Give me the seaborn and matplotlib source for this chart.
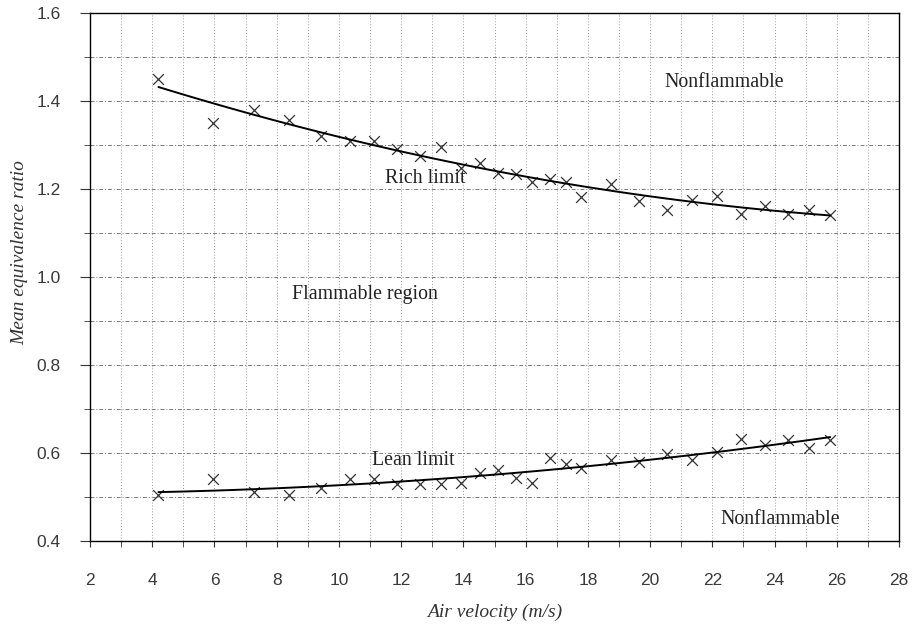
import matplotlib
matplotlib.use("Agg")
import matplotlib.pyplot as plt
import seaborn as sns
import pandas as pd
from matplotlib.ticker import MultipleLocator, FormatStrFormatter

# Data
air_velocity = [4.2, 5.95, 7.27, 8.39, 9.44, 10.35, 11.13, 11.88, 12.59, 13.28,
                13.92, 14.55, 15.1, 15.7, 16.22, 16.77, 17.29, 17.78, 18.75, 19.66,
                20.53, 21.36, 22.15, 22.93, 23.7, 24.43, 25.12, 25.79]
rich_limit = [1.45, 1.351, 1.379, 1.357, 1.32, 1.31, 1.308, 1.292, 1.274, 1.296,
              1.248, 1.259, 1.237, 1.234, 1.217, 1.223, 1.217, 1.181, 1.212, 1.172,
              1.153, 1.174, 1.183, 1.144, 1.162, 1.144, 1.153, 1.14]
lean_limit = [0.505, 0.541, 0.512, 0.505, 0.52, 0.542, 0.54, 0.529, 0.529, 0.529,
              0.532, 0.555, 0.562, 0.544, 0.531, 0.589, 0.576, 0.565, 0.583, 0.58,
              0.598, 0.585, 0.602, 0.631, 0.619, 0.63, 0.611, 0.629]
x_ticks = [2, 4, 6, 8, 10, 12, 14, 16, 18, 20, 22, 24, 26, 28]
y_ticks = [0.4, 0.6, 0.8, 1.0, 1.2, 1.4, 1.6]

df = pd.DataFrame({"v": air_velocity, "rich": rich_limit, "lean": lean_limit})

sns.set_style("ticks")
plt.rcParams["font.family"] = ["Liberation Sans", "DejaVu Sans"]

fig = plt.figure(figsize=(9.15, 6.27), dpi=100)
ax = fig.add_axes([90 / 915, 1 - 541 / 627, (899 - 90) / 915, (541 - 13) / 627])

for col in ["rich", "lean"]:
    sns.regplot(data=df, x="v", y=col, order=2, ci=None, ax=ax, marker="x",
                scatter_kws=dict(color="black", s=60, linewidths=0.9),
                line_kws=dict(color="black", lw=1.4))

ax.set_xlim(2, 28)
ax.set_ylim(0.4, 1.6)
ax.set_xticks(x_ticks)
ax.set_yticks(y_ticks)
ax.xaxis.set_minor_locator(MultipleLocator(1))
ax.yaxis.set_minor_locator(MultipleLocator(0.1))
ax.yaxis.set_major_formatter(FormatStrFormatter("%.1f"))

ax.grid(which="both", axis="x", color="#9a9a9a", linestyle=(0, (1, 2)), lw=0.7)
ax.grid(which="both", axis="y", color="#7a7a7a", linestyle=(0, (4, 2, 1, 2)), lw=0.7)
ax.set_axisbelow(True)

for s in ax.spines.values():
    s.set_visible(True)
    s.set_color("black")
    s.set_linewidth(1.0)

ax.tick_params(axis="both", which="both", direction="out", color="#333333",
               labelcolor="#3a3a3a", labelsize=12.5)
ax.tick_params(axis="x", which="both", length=4, pad=19)
ax.tick_params(axis="y", which="major", length=7, pad=14)
ax.tick_params(axis="y", which="minor", length=4)

serif = ["Liberation Serif", "DejaVu Serif"]
ax.set_xlabel("Air velocity (m/s)", family=serif, style="italic", fontsize=14,
              color="#333333", va="center")
ax.set_ylabel("Mean equivalence ratio", family=serif, style="italic", fontsize=14,
              color="#333333", va="center")
ax.xaxis.set_label_coords(0.5, -0.1345)
ax.yaxis.set_label_coords(-0.0865, 0.547)

tkw = dict(family=serif, fontsize=14.3, color="#222222", ha="center", va="center")
ax.text(22.39, 1.442, "Nonflammable", **tkw)
ax.text(12.77, 1.223, "Rich limit", **tkw)
ax.text(10.84, 0.96, "Flammable region", **tkw)
ax.text(12.39, 0.582, "Lean limit", **tkw)
ax.text(24.19, 0.448, "Nonflammable", **tkw)

fig.savefig("out.png", dpi=100)
